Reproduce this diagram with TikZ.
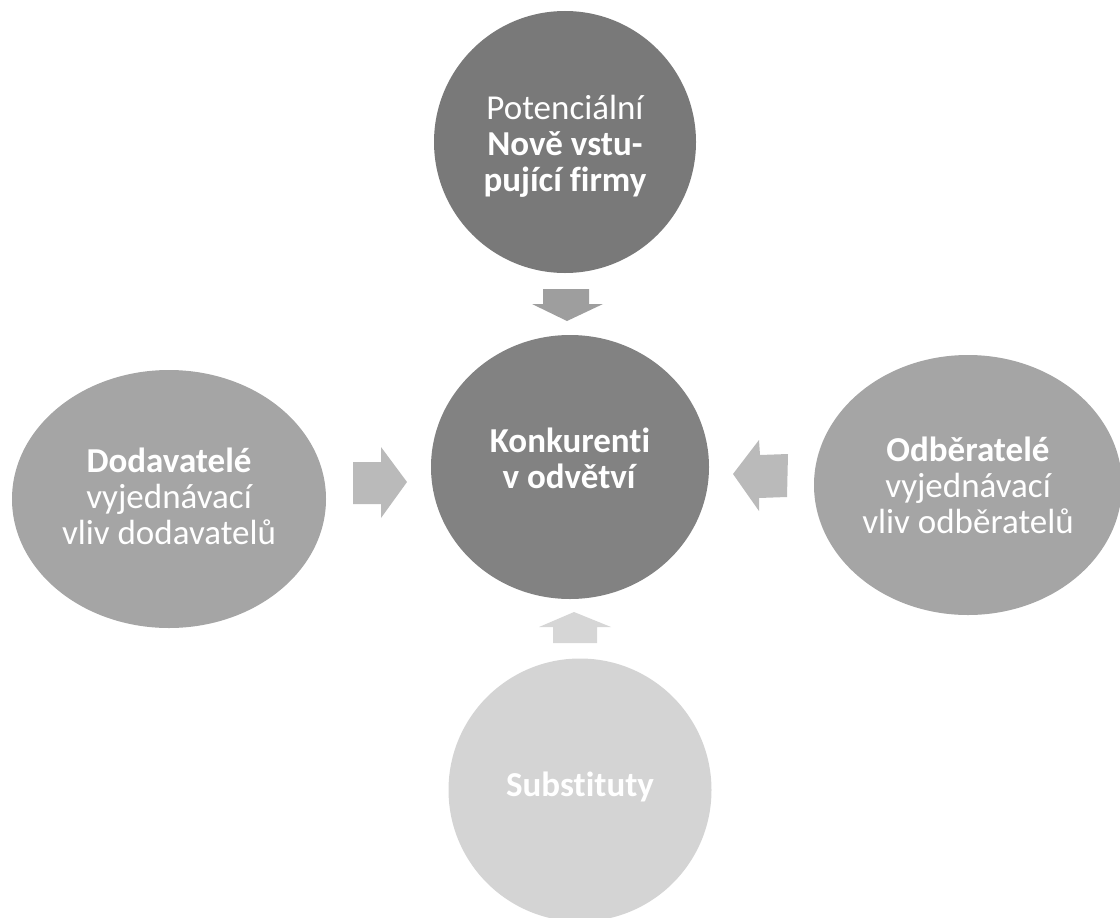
\documentclass[tikz,border=0pt]{standalone}
\usepackage{fontspec}
\setmainfont{Carlito}[Ligatures=NoCommon]
\usetikzlibrary{shapes.geometric}

\definecolor{entrantgray}{HTML}{797979}
\definecolor{coregray}{HTML}{828282}
\definecolor{sidegray}{HTML}{A5A5A5}
\definecolor{subgray}{HTML}{D4D4D4}
\definecolor{downarrow}{HTML}{9E9E9E}
\definecolor{sidearrow}{HTML}{BABABA}
\definecolor{uparrow}{HTML}{D6D6D6}

\tikzset{
  force/.style={ellipse, inner sep=0pt},
  caption/.style={inner sep=0pt, text=white, align=center,
    font=\fontsize{35bp}{36bp}\selectfont}
}

\begin{document}
\begin{tikzpicture}[x=1bp, y=-1bp]
\useasboundingbox (0,0) rectangle (1120,918);
\begin{scope}
\clip (0,0) rectangle (1120,918);

% five forces
\node[force, fill=entrantgray, minimum width=262bp, minimum height=262bp]
  (entrants) at (565,142) {};
\node[force, fill=coregray, minimum width=278bp, minimum height=264bp]
  (rivals) at (570,467) {};
\node[force, fill=sidegray, minimum width=314bp, minimum height=258bp]
  (suppliers) at (169,499) {};
\node[force, fill=sidegray, minimum width=308bp, minimum height=260bp]
  (buyers) at (968,485) {};
\node[force, fill=subgray, minimum width=263bp, minimum height=263bp]
  (substitutes) at (580,790) {};

% their texts
\node[caption] (entrants-text) at ([yshift=-4bp]entrants.center)
  {Potenciální\\\textbf{Nově vstu-}\\\textbf{pující firmy}};
\node[caption] (rivals-text) at ([yshift=9bp]rivals.center)
  {\textbf{Konkurenti}\\\textbf{v odvětví}};
\node[caption] (suppliers-text) at ([yshift=3bp]suppliers.center)
  {\textbf{Dodavatelé}\\vyjednávací\\vliv dodavatelů};
\node[caption] (buyers-text) at (buyers.center)
  {\textbf{Odběratelé}\\vyjednávací\\vliv odběratelů};
\node[caption] (substitutes-text) at ([yshift=3bp]substitutes.center)
  {\textbf{Substituty}};

% block arrows pointing at the rivals
\fill[downarrow] (543,289) -- (589,289) -- (589,304) -- (603,304)
  -- (567,321) -- (532,304) -- (543,304) -- cycle;
\fill[sidearrow] (353,462) -- (381,462) -- (381,447) -- (407,482)
  -- (381,518) -- (381,504) -- (353,504) -- cycle;
\fill[sidearrow] (788,454) -- (760,455) -- (759,440) -- (733,474)
  -- (759,511) -- (759,498) -- (787,497) -- cycle;
\fill[uparrow] (553,643) -- (553,627) -- (539,627) -- (574,612)
  -- (611,627) -- (597,627) -- (597,643) -- cycle;
\end{scope}
\end{tikzpicture}
\end{document}
